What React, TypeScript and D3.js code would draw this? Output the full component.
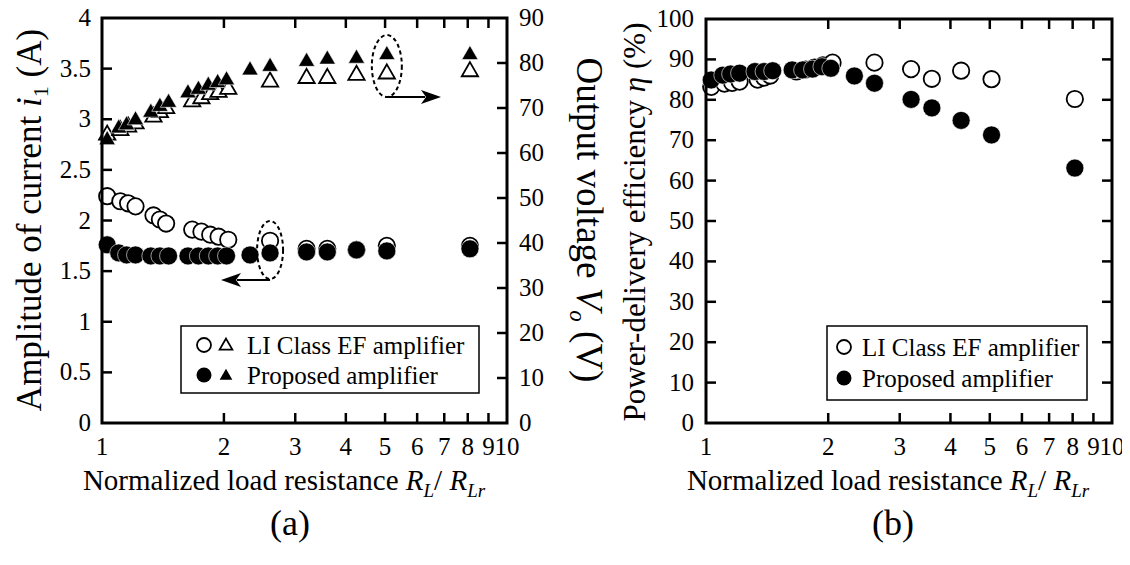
import React from "react";
import * as d3 from "d3";

// ---------- data ----------
const liX = [1.03, 1.11, 1.16, 1.21, 1.34, 1.39, 1.44, 1.67, 1.76, 1.85, 1.94, 2.05, 2.6, 3.2, 3.6, 4.25, 5.05, 8.1];
const liCurrent = [2.24, 2.19, 2.17, 2.14, 2.05, 2.01, 1.97, 1.91, 1.89, 1.86, 1.84, 1.81, 1.80, 1.72, 1.72, 1.71, 1.75, 1.75];
const liVoltage = [64.0, 65.0, 65.8, 66.5, 68.0, 69.0, 69.9, 71.4, 72.1, 73.0, 73.5, 74.2, 75.8, 76.6, 76.6, 77.3, 77.6, 78.1];
const liEff = [83.2, 84.0, 84.2, 84.5, 85.0, 85.5, 86.0, 87.0, 87.5, 88.0, 88.5, 89.2, 89.2, 87.6, 85.2, 87.2, 85.1, 80.2];

const prX = [1.03, 1.10, 1.15, 1.21, 1.32, 1.39, 1.46, 1.63, 1.73, 1.83, 1.93, 2.03, 2.32, 2.6, 3.2, 3.6, 4.25, 5.05, 8.1];
const prCurrent = [1.76, 1.68, 1.66, 1.66, 1.65, 1.65, 1.65, 1.65, 1.65, 1.65, 1.65, 1.65, 1.66, 1.68, 1.69, 1.69, 1.71, 1.70, 1.72];
const prVoltage = [62.9, 65.5, 66.2, 67.3, 69.0, 70.3, 71.2, 73.3, 74.1, 75.0, 75.6, 76.2, 78.4, 79.2, 80.3, 80.8, 81.0, 81.8, 81.8];
const prEff = [84.9, 86.1, 86.4, 86.6, 87.0, 87.0, 87.2, 87.4, 87.4, 87.6, 88.2, 87.8, 85.9, 84.1, 80.1, 78.0, 74.9, 71.3, 63.1];

const xTicks = [1, 2, 3, 4, 5, 6, 7, 8, 9, 10];
const currentTicks = [0, 0.5, 1, 1.5, 2, 2.5, 3, 3.5, 4];
const voltageTicks = [0, 10, 20, 30, 40, 50, 60, 70, 80, 90];
const effTicks = [0, 10, 20, 30, 40, 50, 60, 70, 80, 90, 100];

const legendLabels = ["LI Class EF amplifier", "Proposed amplifier"];

const TS: React.CSSProperties = { fontFamily: '"Liberation Serif"' };
const FF = "Liberation Serif";

// ---------- scales ----------
const xA = d3.scaleLog().domain([1, 10]).range([102, 507]);
const yA = d3.scaleLinear().domain([0, 4]).range([423, 18]);
const yA2 = d3.scaleLinear().domain([0, 90]).range([423, 18]);
const xB = d3.scaleLog().domain([1, 10]).range([706, 1112]);
const yB = d3.scaleLinear().domain([0, 100]).range([423, 19]);

const RO = 8.2;
const RF = 9;
const triPath = d3.symbol().type(d3.symbolTriangle).size(115)();
const triSmall = d3.symbol().type(d3.symbolTriangle).size(70)();

const TICK = 10;
const TF = 25; // tick font

function Frame({ x, y }: { x: any; y: any }) {
  const [x0, x1] = x.range();
  const [y0, y1] = y.range();
  return (
    <rect x={x0} y={y1} width={x1 - x0} height={y0 - y1} fill="none" stroke="#000" strokeWidth={3} />
  );
}

function XAxis({ x, y }: { x: any; y: any }) {
  const [y0, y1] = y.range();
  return (
    <g>
      {xTicks.slice(1, -1).map((t) => (
        <g key={t}>
          <line x1={x(t)} x2={x(t)} y1={y0} y2={y0 - TICK} stroke="#000" strokeWidth={2.5} />
          <line x1={x(t)} x2={x(t)} y1={y1} y2={y1 + TICK} stroke="#000" strokeWidth={2.5} />
        </g>
      ))}
      {xTicks.map((t) => (
        <text key={"l" + t} x={x(t)} y={y0 + 32} textAnchor="middle" fontSize={TF} fontFamily={FF} style={TS}>
          {t}
        </text>
      ))}
    </g>
  );
}

function XTitle({ cx }: { cx: number }) {
  return (
    <text x={cx} y={490} textAnchor="middle" fontSize={29} fontFamily={FF} style={TS}>
      Normalized load resistance{" "}
      <tspan fontStyle="italic">R</tspan>
      <tspan fontStyle="italic" fontSize={19} dy={7}>L</tspan>
      <tspan dy={-7}>/ </tspan>
      <tspan fontStyle="italic">R</tspan>
      <tspan fontStyle="italic" fontSize={19} dy={7}>Lr</tspan>
    </text>
  );
}

function Arrow({ x1, x2, y }: { x1: number; x2: number; y: number }) {
  const dir = Math.sign(x2 - x1);
  const hl = 20;
  const hw = 7;
  const back = x2 - dir * hl;
  return (
    <g>
      <line x1={x1} x2={back + dir * 4} y1={y} y2={y} stroke="#000" strokeWidth={2} />
      <path
        d={`M${x2},${y} L${back},${y - hw} L${back + dir * 5},${y} L${back},${y + hw} Z`}
        fill="#000"
      />
    </g>
  );
}

export default function App() {
  const idxLi = liX.map((_, i) => i);
  const idxPr = prX.map((_, i) => i);
  return (
    <svg width={1122} height={557} fontFamily={FF}>
      <style>{`text, tspan { font-family: "Liberation Serif", "Times New Roman", Times, serif; }`}</style>
      <g transform="translate(-8,-8)">
        <rect width={1130} height={565} fill="#fff" />

        {/* ===== (a) ===== */}
        {currentTicks.map((t) => (
          <g key={"ca" + t}>
            {t > 0 && t < 4 && (
              <line x1={102} x2={102 + TICK} y1={yA(t)} y2={yA(t)} stroke="#000" strokeWidth={2.5} />
            )}
            <text x={91} y={yA(t) + 8} textAnchor="end" fontSize={TF} fontFamily={FF} style={TS}>
              {t}
            </text>
          </g>
        ))}
        {voltageTicks.map((t) => (
          <g key={"va" + t}>
            {t > 0 && t < 90 && (
              <line x1={507} x2={507 - TICK} y1={yA2(t)} y2={yA2(t)} stroke="#000" strokeWidth={2.5} />
            )}
            <text x={519} y={yA2(t) + 8} textAnchor="start" fontSize={TF} fontFamily={FF} style={TS}>
              {t}
            </text>
          </g>
        ))}
        <XAxis x={xA} y={yA} />

        {idxLi.map((i) => (
          <path key={"lt" + i} d={triPath} transform={`translate(${xA(liX[i])},${yA2(liVoltage[i])})`} fill="#fff" stroke="#000" strokeWidth={1.8} />
        ))}
        {idxPr.map((i) => (
          <path key={"pt" + i} d={triPath} transform={`translate(${xA(prX[i])},${yA2(prVoltage[i])})`} fill="#000" stroke="#fff" strokeWidth={0.6} />
        ))}
        {idxLi.map((i) => (
          <circle key={"lc" + i} cx={xA(liX[i])} cy={yA(liCurrent[i])} r={RO} fill="#fff" stroke="#000" strokeWidth={1.8} />
        ))}
        {idxPr.map((i) => (
          <circle key={"pc" + i} cx={xA(prX[i])} cy={yA(prCurrent[i])} r={RF} fill="#000" stroke="#fff" strokeWidth={0.6} />
        ))}

        <ellipse cx={xA(5.05)} cy={66} rx={15} ry={31} fill="none" stroke="#000" strokeWidth={2} strokeDasharray="4,3" />
        <Arrow x1={xA(5.05)} x2={441} y={97} />
        <ellipse cx={xA(2.6)} cy={250} rx={13} ry={29} fill="none" stroke="#000" strokeWidth={2} strokeDasharray="4,3" />
        <Arrow x1={xA(2.6)} x2={221} y={280} />

        <rect x={181} y={326} width={298} height={67} fill="#fff" stroke="#000" strokeWidth={1.5} />
        <circle cx={204} cy={345} r={7} fill="#fff" stroke="#000" strokeWidth={1.8} />
        <path d={triSmall} transform={`translate(226,346)`} fill="#fff" stroke="#000" strokeWidth={1.8} />
        <text x={247} y={354} fontSize={25} fontFamily={FF} style={TS}>{legendLabels[0]}</text>
        <circle cx={204} cy={375} r={7.5} fill="#000" />
        <path d={triSmall} transform={`translate(226,376)`} fill="#000" />
        <text x={247} y={384} fontSize={25} fontFamily={FF} style={TS}>{legendLabels[1]}</text>

        <Frame x={xA} y={yA} />

        <text transform="translate(41,220) rotate(-90)" textAnchor="middle" fontSize={35} fontFamily={FF} style={TS}>
          Amplitude of current <tspan fontStyle="italic">i</tspan>
          <tspan fontSize={22} dy={7}>1</tspan>
          <tspan dy={-7}> (A)</tspan>
        </text>
        <text transform="translate(577,220) rotate(90)" textAnchor="middle" fontSize={37} fontFamily={FF} style={TS}>
          Output voltage <tspan fontStyle="italic">V</tspan>
          <tspan fontStyle="italic" fontSize={23} dy={7}>o</tspan>
          <tspan dy={-7}> (V)</tspan>
        </text>
        <XTitle cx={284} />
        <text x={290} y={535} textAnchor="middle" fontSize={36} fontFamily={FF} style={TS}>(a)</text>

        {/* ===== (b) ===== */}
        {effTicks.map((t) => (
          <g key={"eb" + t}>
            {t > 0 && t < 100 && (
              <g>
                <line x1={706} x2={706 + TICK} y1={yB(t)} y2={yB(t)} stroke="#000" strokeWidth={2.5} />
                <line x1={1112} x2={1112 - TICK} y1={yB(t)} y2={yB(t)} stroke="#000" strokeWidth={2.5} />
              </g>
            )}
            <text x={694} y={yB(t) + 8} textAnchor="end" fontSize={TF} fontFamily={FF} style={TS}>
              {t}
            </text>
          </g>
        ))}
        <XAxis x={xB} y={yB} />

        {idxLi.map((i) => (
          <circle key={"le" + i} cx={xB(liX[i])} cy={yB(liEff[i])} r={RO} fill="#fff" stroke="#000" strokeWidth={1.8} />
        ))}
        {idxPr.map((i) => (
          <circle key={"pe" + i} cx={xB(prX[i])} cy={yB(prEff[i])} r={RF} fill="#000" stroke="#fff" strokeWidth={0.6} />
        ))}

        <rect x={827} y={326} width={260} height={74} fill="#fff" stroke="#000" strokeWidth={1.5} />
        <circle cx={844} cy={347} r={7} fill="#fff" stroke="#000" strokeWidth={1.8} />
        <text x={862} y={356} fontSize={25} fontFamily={FF} style={TS}>{legendLabels[0]}</text>
        <circle cx={844} cy={378} r={7.5} fill="#000" />
        <text x={862} y={387} fontSize={25} fontFamily={FF} style={TS}>{legendLabels[1]}</text>

        <Frame x={xB} y={yB} />

        <text transform="translate(645,222) rotate(-90)" textAnchor="middle" fontSize={31} fontFamily={FF} style={TS}>
          Power-delivery efficiency <tspan fontStyle="italic">η</tspan> (%)
        </text>
        <XTitle cx={888} />
        <text x={893} y={535} textAnchor="middle" fontSize={36} fontFamily={FF} style={TS}>(b)</text>
      </g>
    </svg>
  );
}
